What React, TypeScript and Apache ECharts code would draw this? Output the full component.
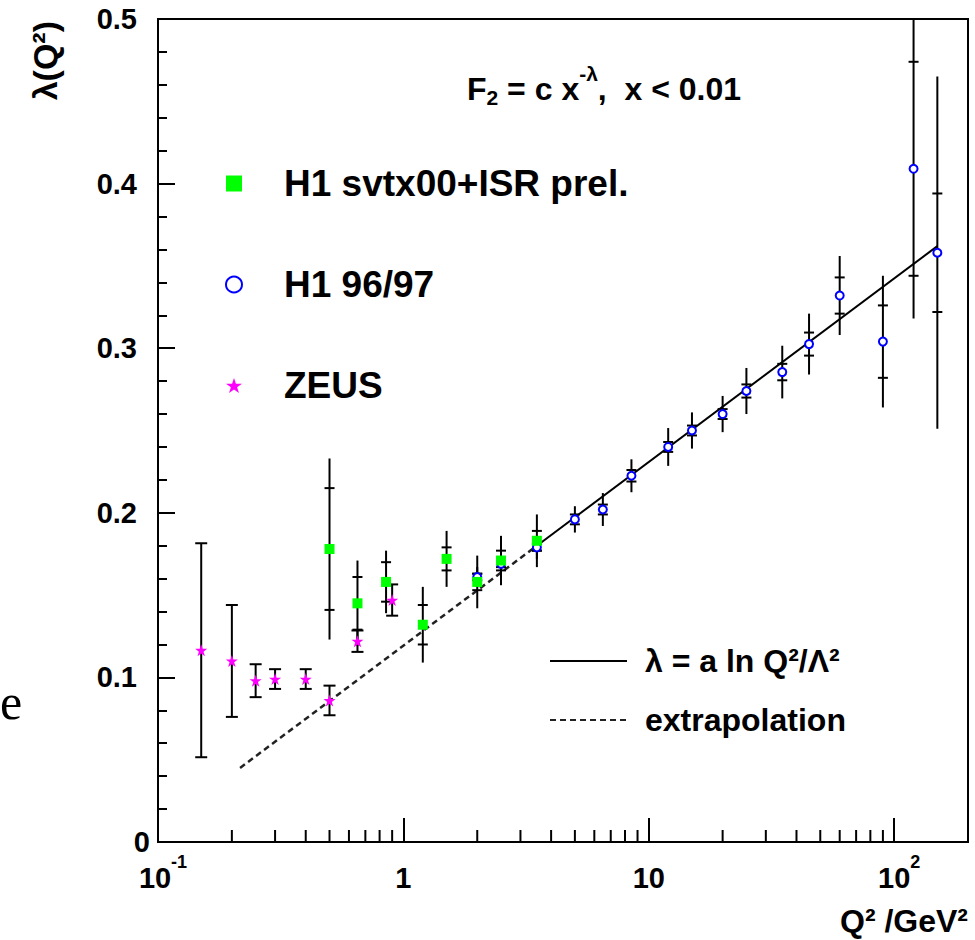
import React, { useEffect, useRef } from 'react';
import * as echarts from 'echarts';

const FONT = "'Liberation Sans', Arial, Helvetica, sans-serif";
const SERIF = "'Liberation Serif', 'Times New Roman', serif";
const STAR = 'path://M50,2 L61.8,37.6 L99,37.6 L69,59.6 L80.4,95 L50,73.2 L19.6,95 L31,59.6 L1,37.6 L38.2,37.6 Z';

// ZEUS
const zeusQ2 = [0.15, 0.2, 0.25, 0.3, 0.4, 0.5, 0.65, 0.9];
const zeusLambda = [0.1165, 0.11, 0.098, 0.099, 0.099, 0.086, 0.122, 0.147];
const zeusErr = [0.065, 0.034, 0.01, 0.006, 0.006, 0.009, 0.0065, 0.0095];

// H1 svtx00+ISR prel.
const svtxQ2 = [0.5, 0.65, 0.85, 1.2, 1.5, 2.0, 2.5, 3.5];
const svtxLambda = [0.178, 0.145, 0.158, 0.132, 0.172, 0.158, 0.171, 0.183];
const svtxStat = [0.037, 0.016, 0.012, 0.012, 0.007, 0.005, 0.006, 0.006];
const svtxTot = [0.055, 0.026, 0.019, 0.023, 0.017, 0.016, 0.015, 0.016];

// H1 96/97
const h1Q2 = [2.0, 2.5, 3.5, 5, 6.5, 8.5, 12, 15, 20, 25, 35, 45, 60, 90, 120, 150];
const h1Lambda = [0.161, 0.169, 0.179, 0.196, 0.202, 0.2225, 0.24, 0.25, 0.26, 0.274, 0.2855, 0.3025, 0.332, 0.304, 0.409, 0.358];
const h1Stat = [0.002, 0.002, 0.002, 0.003, 0.003, 0.0035, 0.003, 0.003, 0.003, 0.004, 0.005, 0.007, 0.011, 0.022, 0.065, 0.036];
const h1Tot = [0.006, 0.006, 0.007, 0.008, 0.01, 0.01, 0.0115, 0.011, 0.011, 0.014, 0.016, 0.0185, 0.024, 0.04, 0.091, 0.107];

// fit  lambda = a ln Q2/Lambda2 and its extrapolation
const fitQ2 = [3.5, 150];
const fitLambda = [0.18, 0.362];
const extrapQ2 = [0.216, 3.5];
const extrapLambda = [0.045, 0.18];

// minor ticks of the logarithmic x axis
const xMinorTicks = [0.2, 0.3, 0.4, 0.5, 0.6, 0.7, 0.8, 0.9, 2, 3, 4, 5, 6, 7, 8, 9, 20, 30, 40, 50, 60, 70, 80, 90];

const NAME_SVTX = 'H1 svtx00+ISR prel.';
const NAME_H1 = 'H1 96/97';
const NAME_ZEUS = 'ZEUS';
const NAME_FIT = 'λ = a ln Q²/Λ²';
const NAME_EXT = 'extrapolation';

const LINE = { stroke: '#000', lineWidth: 2 };

function capBars(params: any, api: any) {
  const q = api.value(0);
  const lo = api.coord([q, api.value(1)]);
  const hi = api.coord([q, api.value(2)]);
  const w = 6;
  return {
    type: 'group',
    children: [
      { type: 'line', shape: { x1: lo[0], y1: lo[1], x2: hi[0], y2: hi[1] }, style: LINE },
      { type: 'line', shape: { x1: lo[0] - w, y1: lo[1], x2: lo[0] + w, y2: lo[1] }, style: LINE },
      { type: 'line', shape: { x1: hi[0] - w, y1: hi[1], x2: hi[0] + w, y2: hi[1] }, style: LINE },
    ],
  };
}

function tickBars(params: any, api: any) {
  const q = api.value(0);
  const lo = api.coord([q, api.value(1)]);
  const hi = api.coord([q, api.value(2)]);
  const sLo = api.coord([q, api.value(3)]);
  const sHi = api.coord([q, api.value(4)]);
  const w = 5;
  return {
    type: 'group',
    children: [
      { type: 'line', shape: { x1: lo[0], y1: lo[1], x2: hi[0], y2: hi[1] }, style: LINE },
      { type: 'line', shape: { x1: sLo[0] - w, y1: sLo[1], x2: sLo[0] + w, y2: sLo[1] }, style: LINE },
      { type: 'line', shape: { x1: sHi[0] - w, y1: sHi[1], x2: sHi[0] + w, y2: sHi[1] }, style: LINE },
    ],
  };
}

function minorTickItem(params: any, api: any) {
  const p = api.coord([api.value(0), api.value(1)]);
  return { type: 'line', shape: { x1: p[0], y1: p[1], x2: p[0], y2: p[1] - 12 }, style: LINE };
}

export default function App() {
  const ref = useRef<HTMLDivElement>(null);

  useEffect(() => {
    if (!ref.current) return;
    const chart = echarts.init(ref.current, undefined, { renderer: 'svg' });

    const zeusPts = zeusQ2.map((q, i) => [q, zeusLambda[i]]);
    const zeusErrData = zeusQ2.map((q, i) => [q, zeusLambda[i] - zeusErr[i], zeusLambda[i] + zeusErr[i]]);
    const svtxPts = svtxQ2.map((q, i) => [q, svtxLambda[i]]);
    const svtxErrData = svtxQ2.map((q, i) => [
      q, svtxLambda[i] - svtxTot[i], svtxLambda[i] + svtxTot[i], svtxLambda[i] - svtxStat[i], svtxLambda[i] + svtxStat[i],
    ]);
    const h1Pts = h1Q2.map((q, i) => [q, h1Lambda[i]]);
    const h1ErrData = h1Q2.map((q, i) => [
      q, h1Lambda[i] - h1Tot[i], h1Lambda[i] + h1Tot[i], h1Lambda[i] - h1Stat[i], h1Lambda[i] + h1Stat[i],
    ]);

    const supStyle = { fontFamily: FONT, fontSize: 18, fontWeight: 'bold', color: '#000', padding: [0, 0, 32, 0] };

    const option: any = {
      animation: false,
      backgroundColor: '#fff',
      grid: {
        left: 158, right: 7, top: 19, bottom: 98,
        show: true, borderColor: '#000', borderWidth: 2, backgroundColor: 'transparent',
        containLabel: false, outerBoundsMode: 'none',
      },
      xAxis: {
        type: 'log', logBase: 10, min: 0.1, max: 200,
        axisLine: { show: true, onZero: false, lineStyle: { color: '#000', width: 2 } },
        axisTick: { show: true, inside: true, length: 24, lineStyle: { color: '#000', width: 2 } },
        splitLine: { show: false },
        axisLabel: {
          margin: 11, lineHeight: 50, fontFamily: FONT, fontSize: 29, fontWeight: 'bold', color: '#000',
          showMaxLabel: false,
          formatter: (v: number) => {
            const l = Math.log10(v);
            const e = Math.round(l);
            if (Math.abs(l - e) > 1e-6) return '';
            if (e === -1) return '{m|10}{sup|-1}';
            if (e === 0) return '1';
            if (e === 1) return '10';
            if (e === 2) return '{m|10}{sup|2}';
            return '';
          },
          rich: { m: { padding: [0, 0, 0, 10] }, sup: supStyle },
        },
        name: '{t|Q² /GeV²}', nameLocation: 'end', nameGap: 0, nameMoveOverlap: false,
        nameTextStyle: {
          fontFamily: FONT, fontSize: 32, fontWeight: 'bold', color: '#000',
          align: 'right', verticalAlign: 'middle',
          rich: { t: { fontFamily: FONT, fontSize: 32, fontWeight: 'bold', color: '#000', padding: [158, 0, 0, 0] } },
        },
      },
      yAxis: {
        type: 'value', min: 0, max: 0.5, interval: 0.1,
        axisLine: { show: true, onZero: false, lineStyle: { color: '#000', width: 2 } },
        axisTick: { show: true, inside: true, length: 17, lineStyle: { color: '#000', width: 2 } },
        minorTick: { show: true, splitNumber: 5, length: 9, lineStyle: { color: '#000', width: 2 } },
        splitLine: { show: false }, minorSplitLine: { show: false },
        axisLabel: {
          margin: 8, fontFamily: FONT, fontSize: 29, fontWeight: 'bold', color: '#000',
          formatter: (v: number) => (v === 0 ? '0' : '{n|' + v.toFixed(1) + '}'),
          rich: { n: { padding: [0, 13, 0, 0] } },
        },
        name: '{t|λ(Q²)}', nameLocation: 'end', nameRotate: 90, nameGap: -2, nameMoveOverlap: false,
        nameTextStyle: {
          fontFamily: FONT, fontSize: 34, fontWeight: 'bold', color: '#000',
          align: 'right', verticalAlign: 'middle',
          rich: { t: { fontFamily: FONT, fontSize: 34, fontWeight: 'bold', color: '#000', padding: [0, 0, 226, 0] } },
        },
      },
      legend: [
        {
          orient: 'vertical', left: 225, top: 165, padding: 0,
          itemWidth: 16, itemHeight: 16, itemGap: 64, selectedMode: false,
          textStyle: { fontFamily: FONT, fontSize: 37, fontWeight: 'bold', color: '#000', padding: [0, 0, 0, 37] },
          data: [
            { name: NAME_SVTX, icon: 'rect' },
            { name: NAME_H1, icon: 'circle' },
            { name: NAME_ZEUS, icon: STAR },
          ],
        },
        {
          orient: 'vertical', left: 549, top: 645, padding: 0,
          itemWidth: 77, itemHeight: 14, itemGap: 27, selectedMode: false,
          itemStyle: { opacity: 0 },
          textStyle: { fontFamily: FONT, fontSize: 32, fontWeight: 'bold', color: '#000', padding: [0, 0, 0, 13] },
          data: [NAME_FIT, NAME_EXT],
        },
      ],
      graphic: [
        {
          type: 'text', x: 467, y: 89, z: 10,
          style: {
            text: 'F{sub|2} = c x{sup|-λ},  x < 0.01',
            fontFamily: FONT, fontSize: 32, fontWeight: 'bold', fill: '#000',
            align: 'left', verticalAlign: 'middle',
            rich: {
              sub: { fontFamily: FONT, fontSize: 21, fontWeight: 'bold', fill: '#000', padding: [16, 0, 0, 0] },
              sup: { fontFamily: FONT, fontSize: 21, fontWeight: 'bold', fill: '#000', padding: [0, 0, 32, 0] },
            },
          },
        },
        {
          type: 'text', x: 0, y: 702,
          style: { text: 'e', fontFamily: SERIF, fontSize: 50, fill: '#000', align: 'left', verticalAlign: 'middle' },
        },
      ],
      series: [
        {
          type: 'custom', name: 'x minor ticks', silent: true, z: 2,
          renderItem: minorTickItem, data: xMinorTicks.map((q) => [q, 0]), encode: { x: 0, y: 1 },
        },
        {
          type: 'line', name: NAME_EXT, data: extrapQ2.map((q, i) => [q, extrapLambda[i]]),
          symbol: 'none', z: 3, silent: true,
          lineStyle: { color: '#222', width: 2.5, type: [6, 4] },
          itemStyle: { color: '#222' },
        },
        {
          type: 'line', name: NAME_FIT, data: fitQ2.map((q, i) => [q, fitLambda[i]]),
          symbol: 'none', z: 3, silent: true,
          lineStyle: { color: '#000', width: 2, type: 'solid' },
          itemStyle: { color: '#000' },
        },
        {
          type: 'custom', name: 'ZEUS errors', silent: true, z: 4,
          renderItem: capBars, data: zeusErrData, encode: { x: 0, y: [1, 2] },
        },
        {
          type: 'custom', name: 'H1 svtx00 errors', silent: true, z: 4,
          renderItem: tickBars, data: svtxErrData, encode: { x: 0, y: [1, 2] },
        },
        {
          type: 'custom', name: 'H1 96/97 errors', silent: true, z: 4,
          renderItem: tickBars, data: h1ErrData, encode: { x: 0, y: [1, 2] },
        },
        {
          type: 'scatter', name: NAME_H1, data: h1Pts, symbol: 'circle', symbolSize: 8, z: 5,
          itemStyle: { color: '#ffffff', borderColor: '#0000ff', borderWidth: 2, opacity: 1 },
        },
        {
          type: 'scatter', name: NAME_SVTX, data: svtxPts, symbol: 'rect', symbolSize: 10, z: 6,
          itemStyle: { color: '#00ff00', opacity: 1 },
        },
        {
          type: 'scatter', name: NAME_ZEUS, data: zeusPts, symbol: STAR, symbolSize: 12, z: 6,
          itemStyle: { color: '#ff00ff', opacity: 1 },
        },
      ],
    };

    chart.setOption(option);
    return () => chart.dispose();
  }, []);

  return (
    <div
      ref={ref}
      style={{ position: 'absolute', left: 0, top: 0, width: 975, height: 940, background: '#fff' }}
    />
  );
}
